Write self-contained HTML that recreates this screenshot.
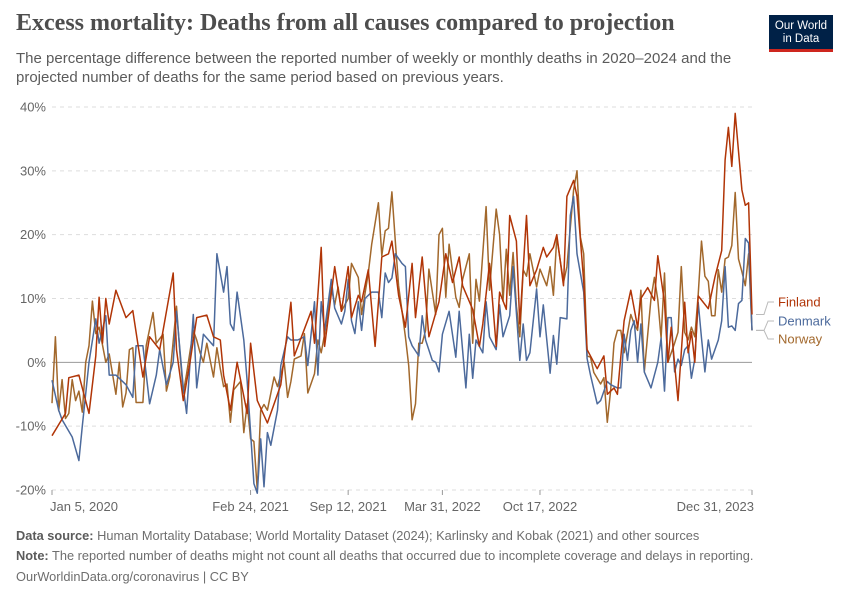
<!DOCTYPE html>
<html><head><meta charset="utf-8">
<style>
body{margin:0;background:#fff;font-family:"Liberation Sans",sans-serif;}
#wrap{position:relative;width:850px;height:600px;overflow:hidden;}
.title{position:absolute;left:16px;top:10px;font-family:"Liberation Serif",serif;font-size:24px;color:#4d4d4d;font-weight:bold;}
.sub{position:absolute;left:16px;top:49px;width:740px;font-size:15px;line-height:19px;color:#5b5b5b;}
.logo{position:absolute;left:769px;top:15px;width:64px;height:37px;background:#002147;border-bottom:3px solid #ce261e;box-sizing:border-box;color:#fff;font-size:11.5px;line-height:13px;text-align:center;padding-top:5px;}
.foot{position:absolute;left:16px;font-size:12.8px;color:#6e6e6e;}
.foot b{font-weight:bold;color:#5b5b5b;}
</style></head><body>
<div id="wrap">
<div class="title">Excess mortality: Deaths from all causes compared to projection</div>
<div class="sub">The percentage difference between the reported number of weekly or monthly deaths in 2020–2024 and the projected number of deaths for the same period based on previous years.</div>
<div class="logo">Our World<br>in Data</div>
<svg id="chart" width="850" height="600" style="position:absolute;left:0;top:0"></svg>
<div class="foot" style="top:528px"><b>Data source:</b> Human Mortality Database; World Mortality Dataset (2024); Karlinsky and Kobak (2021) and other sources</div>
<div class="foot" style="top:548px"><b>Note:</b> The reported number of deaths might not count all deaths that occurred due to incomplete coverage and delays in reporting.</div>
<div class="foot" style="top:569px">OurWorldinData.org/coronavirus | CC BY</div>
</div>
<script>
const yTicks=[-20,-10,0,10,20,30,40];
const xTickWeeks=[0,59,88,116,145,208];
const xTickLabels=["Jan 5, 2020","Feb 24, 2021","Sep 12, 2021","Mar 31, 2022","Oct 17, 2022","Dec 31, 2023"];
const seriesNames=["Finland","Denmark","Norway"];
const finlandWeeks=[0,4,5,8,11,13,14,15,16,17,19,22,24,27,29,32,36,37,39,41,43,46,48,50,51,53,55,58,59,61,64,68,71,72,77,78,80,81,84,86,88,89,91,92,94,96,98,100,101,103,105,107,108,110,112,115,117,119,121,122,125,127,128,130,132,133,135,136,138,139,141,142,144,146,147,149,150,152,153,155,156,158,159,162,164,165,167,168,170,172,174,175,177,179,180,182,183,184,186,188,189,190,191,192,195,197,199,200,201,202,203,205,206,207,208];
const finlandValues=[-11.5,-8,-2.4,-2,-8,1,10.2,3,10,6,11.3,7,8.1,-2.3,4,2,14,2,-6,0,7,7.4,4,3.5,-2,-7.5,0,-8,3,-6,-9.5,-3.5,9.4,1,8,3,18,2.5,15,8,15,7,10.5,9.5,14.5,2.5,16.5,17,19,10.5,5.5,15.5,7,16.5,4,9.5,17,12.5,16.5,12,8.3,2.5,6,15.5,2.5,11,8.3,23,19,6,23,12,14.5,18,16.5,18,20,12,26,28.5,26,12.7,2,-1,1,-5,-4,-5,6.5,11.3,5.5,10,11.7,9.7,16.7,9.4,0,5.5,-6,9.4,1.5,4.8,0,10.4,8.4,13.4,17.5,31.7,36.8,30.7,39,27,24.6,25,7.5];
const denmarkWeeks=[0,2,3,6,8,9,11,13,14,16,17,19,22,24,25,27,29,31,32,34,36,37,39,40,42,43,45,48,49,51,52,53,54,55,57,58,59,60,61,62,63,64,65,67,68,70,71,73,75,76,78,79,80,81,83,84,86,87,88,89,90,91,92,93,95,97,98,99,100,101,102,104,105,106,107,109,110,111,113,114,115,116,118,120,121,123,124,125,126,128,129,130,132,133,134,136,137,139,140,141,142,144,145,146,148,149,150,151,153,154,155,156,158,159,160,162,163,165,166,168,169,170,171,172,173,174,175,176,178,180,181,182,183,184,185,186,187,188,189,190,191,192,193,194,195,196,198,199,200,201,202,203,204,205,206,207,208];
const denmarkValues=[-2.8,-7.5,-9,-11.7,-15.4,-10,0,6.8,3,7.3,-2,-2,-3.5,-5.5,2.6,2.6,-6.5,-2,2,-3.5,0,8,-4,-8,7.5,-4,4.4,2.6,17,11,15,6,5,11,3.5,-3,-11,-19,-20.5,-12,-19.5,-11,-13,-7.5,-0.5,4,3.5,3.5,4,-0.5,9.5,-2,9.5,5,13,8.5,6,8,13,6.5,4.5,9.5,5,10,11,11,7,14,12.5,13.2,17,15.5,15,4,2.6,1,7.3,3.5,0.3,0,-1.5,4.4,8,0.8,8,-4,4.4,-2.5,3.5,1.5,9.5,4,2,9,4,7.3,15,0.3,6,0.3,1.5,11.5,4,9,-1.7,4.2,-0.3,7,6.8,23,26,17,11,0.6,-2,-6.5,-6,-3,-3.5,-4,-4,4.4,0.3,5,6.5,0,6,-1.5,-4,0,3.8,-4.5,7,7,-1.5,0.5,-0.5,2,2.6,-2.5,0.5,9.4,3.8,-1.5,3.5,0.5,3.5,6.5,15,5.5,5.7,5,9.2,9.7,19.4,18.7,5];
const norwayWeeks=[0,1,2,3,4,5,6,7,8,9,10,11,12,13,14,16,17,19,20,21,22,23,24,25,27,28,30,31,33,34,35,37,38,39,40,42,43,44,45,46,48,49,50,51,52,53,54,56,57,58,59,60,61,62,63,64,66,67,69,70,71,72,74,75,76,78,79,80,81,83,84,85,86,88,89,91,92,94,95,97,98,99,100,101,102,103,105,106,107,108,109,110,111,112,114,115,116,117,118,120,121,122,124,125,126,127,129,130,132,133,134,135,136,137,138,139,140,141,142,144,145,147,148,149,150,152,153,155,156,157,158,159,160,161,163,164,165,166,167,168,169,170,172,173,174,175,176,178,179,180,181,182,183,185,186,187,188,189,190,191,192,193,194,195,196,197,198,199,200,201,202,203,204,205,206,207,208];
const norwayValues=[-6.4,4,-7.6,-2.7,-8.8,-8,-2.7,-6,-4.5,-7.8,0,2.6,9.6,4.5,5.5,0,1.3,-5,0,-7,-4.8,2,2.3,-6.3,-6.3,2.6,7.8,3,4.4,-4.5,-2.3,8.8,1.5,-4.8,-1.8,5,3.5,1.5,0,3,-2.3,2.3,-1,-3.8,-3.4,-9.4,-4.3,-3,-11,-6.5,-12,-12.4,-20,-7.5,-6.6,-7.5,-2.3,-3.8,0,-5.5,-3,0.5,1,4.5,-4.8,-1.8,3.5,1.5,4.4,11.8,9,11.8,8,10,15.5,13.3,7.5,14,18.5,25,16.7,20.6,21,26.7,19,12,4,-0.5,-9,-6.5,3,3,5,14.6,7.5,20,21,10.2,18.5,10.2,8.6,13,17,3,13,9.6,24.4,11.3,24,20,9.6,17.7,10.5,17.2,8.8,4,14.5,13.5,17,11.8,14.6,12,15,10.5,19.6,12.5,15,27,30,19.6,17,1,0.8,-1.6,-3.4,-2.4,-9.4,-4.3,3,5,5,1.5,7.5,6,5,11.3,-1.5,10,13.3,9.8,3.8,14,0,3,4.7,15,4.7,3.5,5.5,4,10.6,19,13.5,12.7,7.3,7.3,14.5,11,16.2,16.5,18.3,26.6,16.2,14.2,12,17,5];

const X0=52,X1=752,Y40=107,Ym20=490,maxWeek=208;
function xs(w){return X0+(X1-X0)*w/maxWeek;}
function ys(v){return Ym20+(Y40-Ym20)*(v-(-20))/60;}
const svg=document.getElementById('chart');
const NS='http://www.w3.org/2000/svg';
function mk(t,a){const e=document.createElementNS(NS,t);for(const k in a)e.setAttribute(k,a[k]);svg.appendChild(e);return e;}

yTicks.forEach(t=>{
  const l=mk('line',{x1:X0,x2:X1,y1:ys(t),y2:ys(t),stroke:t===0?'#9a9a9a':'#dddddd','stroke-width':1,'stroke-dasharray':t===0?'':'4,4'});
  
  
  const tx=mk('text',{x:46,y:ys(t)+4.5,'text-anchor':'end','font-size':13,fill:'#666','font-family':'Liberation Sans, sans-serif'});
  tx.textContent=t+'%';
  
  
});
xTickWeeks.forEach((w,i)=>{
  const x=xs(w);
  const tk=mk('line',{x1:x,x2:x,y1:490,y2:495,stroke:'#999'});
  
  
  const anchor=i===0?'start':(i===xTickWeeks.length-1?'end':'middle');
  const tx=mk('text',{x:i===0?x-2:(i===xTickWeeks.length-1?x+2:x),y:511,'text-anchor':anchor,'font-size':13,fill:'#666','font-family':'Liberation Sans, sans-serif'});
  tx.textContent=xTickLabels[i];
  
  
});
const colors={Finland:'#b13507',Denmark:'#4c6a9c',Norway:'#a2682c'};
const data={Norway:[norwayWeeks,norwayValues],Denmark:[denmarkWeeks,denmarkValues],Finland:[finlandWeeks,finlandValues]};
['Norway','Denmark','Finland'].forEach(n=>{
  const [w,v]=data[n];
  const d=w.map((wk,i)=>(i?'L':'M')+xs(wk).toFixed(1)+','+ys(v[i]).toFixed(1)).join('');
  const p=mk('path',{d:d,fill:'none',stroke:colors[n],'stroke-width':1.5,'stroke-linejoin':'round'});
  
  
});
const legendY={Finland:302,Denmark:321,Norway:339};
seriesNames.forEach(n=>{
  const [w,v]=data[n];
  const ly=ys(v[v.length-1]);
  const c=mk('path',{d:`M756,${ly}H764L768,${legendY[n]}H774`,fill:'none',stroke:'#bbb','stroke-width':1});
  
  
  const t=mk('text',{x:778,y:legendY[n]+4.5,'font-size':13,fill:colors[n],'font-family':'Liberation Sans, sans-serif'});
  t.textContent=n;
  
  
});
</script>
</body></html>
